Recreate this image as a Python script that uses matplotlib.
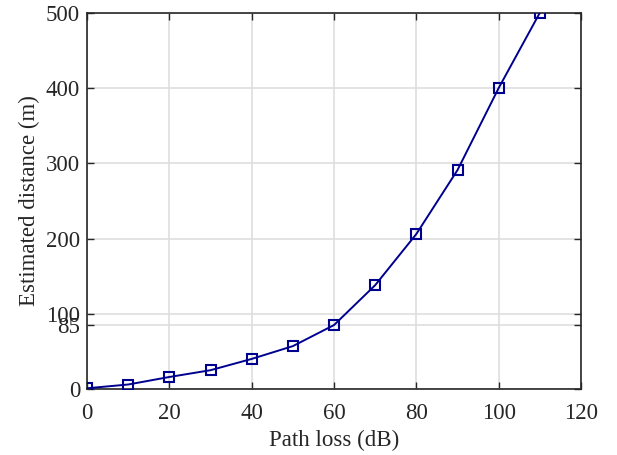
import numpy as np
import matplotlib.pyplot as plt

# path loss vs. estimated distance
path_loss = [0, 10, 20, 30, 40, 50, 60, 70, 80, 90, 100, 110]
distance = [1, 6, 16, 25, 40, 57, 85, 138, 206, 291, 400, 500]

x_ticks = [0, 20, 40, 60, 80, 100, 120]
y_ticks = [0, 85, 100, 200, 300, 400, 500]

plt.rcParams['font.family'] = ['Liberation Serif', 'DejaVu Serif']

fig = plt.figure(figsize=(6.17, 4.55), dpi=100)
ax = fig.add_axes([0.141, 0.145, 0.8007, 0.827])

ax.plot(path_loss, distance, color='#00008f', linewidth=1.4,
        marker='s', markersize=6.5, markerfacecolor='none',
        markeredgecolor='#00008f', markeredgewidth=1.5, zorder=3)

ax.set_xlim(0, 120)
ax.set_ylim(0, 500)
ax.set_xticks(x_ticks)
ax.set_yticks(y_ticks)
ax.grid(True, color='#dedede', linewidth=1.2)
ax.set_axisbelow(True)

ax.tick_params(direction='in', top=True, right=True, length=5,
               width=1, colors='#262626', labelsize=16.5)
ax.tick_params(axis='x', pad=10)
ax.tick_params(axis='y', pad=5)
for s in ax.spines.values():
    s.set_color('#262626')
    s.set_linewidth(1.2)

ax.set_xlabel('Path loss (dB)', fontsize=16.5, color='#262626', labelpad=4)
ax.set_ylabel('Estimated distance (m)', fontsize=16.5, color='#262626', labelpad=4)

fig.savefig('out.png', dpi=100)
